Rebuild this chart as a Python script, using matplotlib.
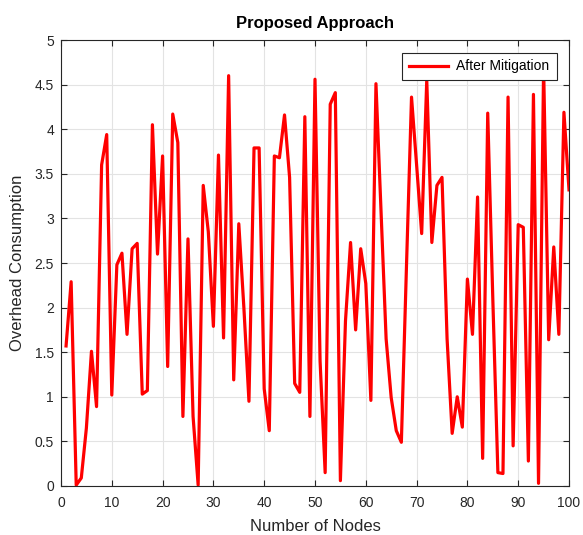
import numpy as np
import matplotlib
matplotlib.use("Agg")
from matplotlib import pyplot as plt

plt.rcParams.update({
    "font.family": ["Liberation Sans", "DejaVu Sans"],
    "font.size": 10})

# Overhead per node count
nodes = list(range(1, 101))
overhead = [
    1.57, 2.29, 0.01, 0.09, 0.65, 1.51, 0.89, 3.60, 3.94, 1.02,
    2.48, 2.61, 1.70, 2.66, 2.72, 1.03, 1.07, 4.05, 2.60, 3.70,
    1.34, 4.17, 3.85, 0.78, 2.77, 0.78, 0.01, 3.37, 2.85, 1.79,
    3.71, 1.66, 4.60, 1.19, 2.94, 2.00, 0.95, 3.79, 3.79, 1.09,
    0.62, 3.70, 3.68, 4.16, 3.46, 1.15, 1.05, 4.14, 0.78, 4.56,
    1.40, 0.15, 4.28, 4.41, 0.06, 1.85, 2.73, 1.75, 2.66, 2.27,
    0.96, 4.51, 3.08, 1.65, 0.99, 0.62, 0.49, 2.45, 4.36, 3.60,
    2.83, 4.55, 2.73, 3.37, 3.46, 1.65, 0.59, 1.00, 0.66, 2.32,
    1.70, 3.24, 0.31, 4.18, 2.10, 0.15, 0.14, 4.36, 0.45, 2.93,
    2.90, 0.28, 4.39, 0.03, 4.70, 1.64, 2.68, 1.70, 4.19, 3.32]
series_label = "After Mitigation"

fig = plt.figure(figsize=(5.83, 5.35), dpi=100)
ax = fig.add_axes([0.1046, 0.0916, 0.8714, 0.8336])

ax.plot(nodes, overhead, color="red", linewidth=2.3, label=series_label)

ax.set_xlim(0, 100)
ax.set_ylim(0, 5)
ax.set_xticks(np.arange(0, 101, 10))
ax.set_yticks(np.arange(0, 5.01, 0.5))
ax.set_yticklabels(["0", "0.5", "1", "1.5", "2", "2.5", "3", "3.5", "4", "4.5", "5"])
ax.tick_params(direction="in", top=True, right=True, length=4, width=0.8,
               labelsize=10, colors="#262626")
ax.tick_params(axis="x", pad=7)
ax.tick_params(axis="y", pad=5)
ax.grid(True, color="#e3e3e3", linewidth=0.8)
ax.set_axisbelow(True)
for s in ax.spines.values():
    s.set_color("#262626")
    s.set_linewidth(0.8)

ax.set_xlabel("Number of Nodes", fontsize=12, color="#262626", labelpad=7)
ax.set_ylabel("Overhead Consumption", fontsize=12, color="#262626", labelpad=7)
ax.set_title("Proposed Approach", fontsize=12, fontweight="bold", pad=9)

leg = ax.legend(loc="upper right", fontsize=10, handlelength=2.8,
                handletextpad=0.6, fancybox=False, framealpha=1,
                edgecolor="#262626", borderaxespad=0.9, borderpad=0.5)
leg.get_frame().set_linewidth(0.8)

fig.savefig("out.png", dpi=100)
